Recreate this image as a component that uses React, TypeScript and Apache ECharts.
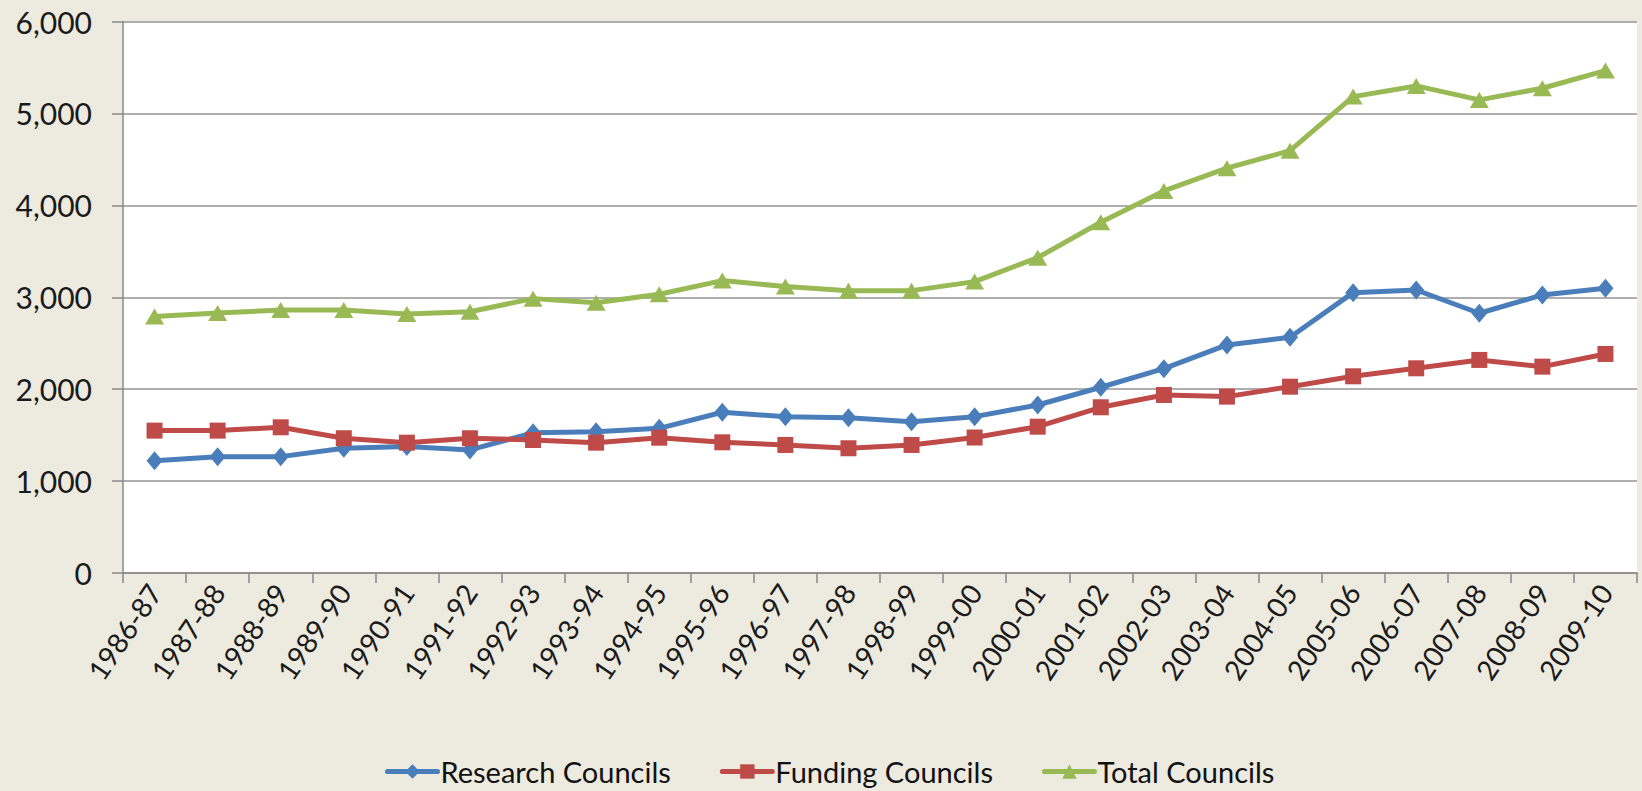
import React, { useEffect, useRef } from "react";
import * as echarts from "echarts";

const categories = [
  "1986-87", "1987-88", "1988-89", "1989-90", "1990-91", "1991-92",
  "1992-93", "1993-94", "1994-95", "1995-96", "1996-97", "1997-98",
  "1998-99", "1999-00", "2000-01", "2001-02", "2002-03", "2003-04",
  "2004-05", "2005-06", "2006-07", "2007-08", "2008-09", "2009-10",
];

const researchCouncils = [
  1222, 1266, 1266, 1357, 1375, 1339, 1525, 1538, 1574, 1749, 1701, 1690,
  1646, 1701, 1828, 2021, 2223, 2481, 2565, 3050, 3079, 2826, 3025, 3098,
];

const fundingCouncils = [
  1549, 1549, 1585, 1466, 1418, 1466, 1447, 1418, 1472, 1422, 1393, 1357,
  1393, 1474, 1592, 1803, 1937, 1919, 2027, 2140, 2227, 2318, 2245, 2383,
];

const totalCouncils = [
  2790, 2828, 2862, 2862, 2818, 2843, 2985, 2941, 3032, 3181, 3116, 3072,
  3072, 3170, 3431, 3816, 4157, 4404, 4595, 5183, 5299, 5147, 5274, 5466,
];

const seriesNames = ["Research Councils", "Funding Councils", "Total Councils"];

const yTicks = { min: 0, max: 6000, interval: 1000 };

const BLUE = "#4A7EBB";
const RED = "#BE4B48";
const GREEN = "#98B954";

export default function App() {
  const ref = useRef<HTMLDivElement>(null);

  useEffect(() => {
    if (!ref.current) return;
    const chart = echarts.init(ref.current, null, { renderer: "svg" });
    const lineSeries = (
      name: string,
      data: number[],
      color: string,
      symbol: string,
      symbolSize: number | number[]
    ) => ({
      name,
      type: "line",
      data,
      symbol,
      symbolSize,
      showAllSymbol: true,
      itemStyle: { color },
      lineStyle: { color, width: 5, cap: "round", join: "round" },
      emphasis: { disabled: true },
    });

    chart.setOption({
      animation: false,
      backgroundColor: "#EDEAE0",
      textStyle: { fontFamily: "Lato, 'Open Sans', sans-serif" },
      grid: {
        left: 123,
        right: 5,
        top: 21.5,
        bottom: 218,
        show: true,
        backgroundColor: "#FFFFFF",
        borderWidth: 0,
      },
      legend: {
        left: 385,
        top: 757,
        padding: 0,
        itemWidth: 50,
        itemHeight: 18,
        itemGap: 49,
        selectedMode: false,
        lineStyle: { width: 5 },
        textStyle: {
          fontSize: 29,
          lineHeight: 29,
          color: "#111",
          fontFamily: "Lato, sans-serif",
          padding: [0, 0, 0, -2],
        },
        data: seriesNames,
      },
      xAxis: {
        type: "category",
        data: categories,
        boundaryGap: true,
        axisLine: { show: true, lineStyle: { color: "#888888", width: 1.5 } },
        axisTick: { show: true, length: 10, alignWithLabel: false, lineStyle: { color: "#888888", width: 1.5 } },
        axisLabel: {
          interval: 0,
          rotate: 56,
          margin: 14,
          fontSize: 28,
          color: "#1a1a1a",
        },
        splitLine: { show: false },
      },
      yAxis: {
        type: "value",
        min: yTicks.min,
        max: yTicks.max,
        interval: yTicks.interval,
        axisLine: { show: true, lineStyle: { color: "#888888", width: 1.5 } },
        axisTick: { show: true, length: 11, lineStyle: { color: "#888888", width: 1.5 } },
        axisLabel: {
          margin: 31,
          fontSize: 30,
          color: "#1a1a1a",
          formatter: (v: number) => v.toLocaleString("en-US"),
        },
        splitLine: { show: true, lineStyle: { color: "#939393", width: 1.5 } },
      },
      series: [
        lineSeries(seriesNames[0], researchCouncils, BLUE, "diamond", [16, 19]),
        lineSeries(seriesNames[1], fundingCouncils, RED, "rect", 16),
        lineSeries(seriesNames[2], totalCouncils, GREEN, "triangle", [19, 16]),
      ],
    });
    return () => chart.dispose();
  }, []);

  return (
    <div
      ref={ref}
      style={{ position: "fixed", left: 0, top: 0, width: 1642, height: 791 }}
    />
  );
}
